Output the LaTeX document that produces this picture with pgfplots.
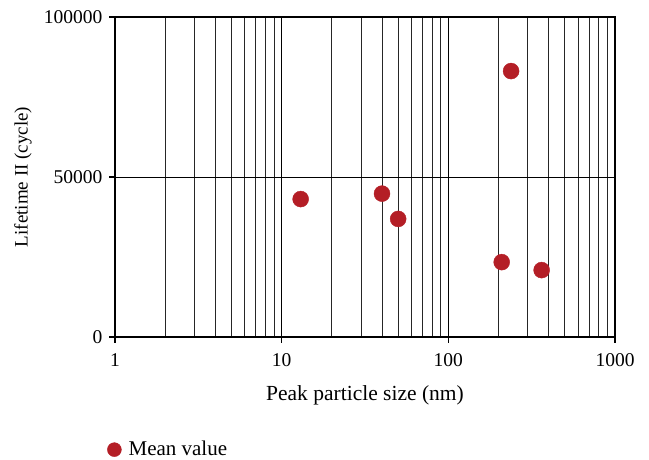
\documentclass[border=0pt]{standalone}
\usepackage{pgfplots}
\pgfplotsset{compat=1.18}
\usetikzlibrary{calc}
\usepackage{fontspec}
\setmainfont{Liberation Serif}
\definecolor{dotred}{RGB}{180,30,38}
\begin{document}
\fontsize{19}{22}\selectfont
\begin{tikzpicture}
\begin{axis}[
  xmode=log,
  width=500pt, height=320pt,
  scale only axis,
  xmin=1, xmax=1000,
  ymin=0, ymax=100000,
  xtick={1,10,100,1000},
  xticklabels={1,10,100,1000},
  ytick={0,50000,100000},
  yticklabels={0,50000,100000},
  scaled y ticks=false,
  minor xtick={2,3,4,5,6,7,8,9,20,30,40,50,60,70,80,90,200,300,400,500,600,700,800,900},
  xmajorgrids, xminorgrids, ymajorgrids,
  major grid style={black, line width=0.8pt},
  minor grid style={black!85, line width=0.8pt},
  axis line style={black, line width=1.6pt},
  tick style={black, line width=1.2pt},
  tick align=outside,
  major tick length=6pt,
  minor tick length=0pt,
  xtick pos=bottom, ytick pos=left,
  tick label style={font=\fontsize{19.5}{22}\selectfont},
  xticklabel style={yshift=-4pt},
  xlabel={Peak particle size (nm)},
  ylabel={Lifetime II (cycle)},
  xlabel style={at={(axis description cs:0.5,-0.181)}, anchor=center, font=\fontsize{21.5}{24}\selectfont},
  ylabel style={at={(axis description cs:-0.184,0.5)}, anchor=center, font=\fontsize{19}{22}\selectfont},
  legend style={draw=none, fill=none, at={(-0.016,-0.352)}, anchor=west, inner sep=0pt, font=\fontsize{21}{24}\selectfont, legend cell align=left},
  legend image code/.code={\draw[#1, mark size=7pt] plot coordinates {(0pt,0pt)}; \path (-7pt,0pt) (12pt,0pt);},
]
\addplot[only marks, mark=*, mark size=8pt, color=dotred, mark options={draw=dotred, fill=dotred}] coordinates {
  (13,43100) (40,44800) (50,36900) (209,23400) (363,20900) (238,83100)
};
\addlegendentry{Mean value}
\end{axis}
\pgfresetboundingbox
\path ($(current axis.south west)+(-115pt,-123pt)$) rectangle ($(current axis.north east)+(34pt,17pt)$);
\end{tikzpicture}
\end{document}
